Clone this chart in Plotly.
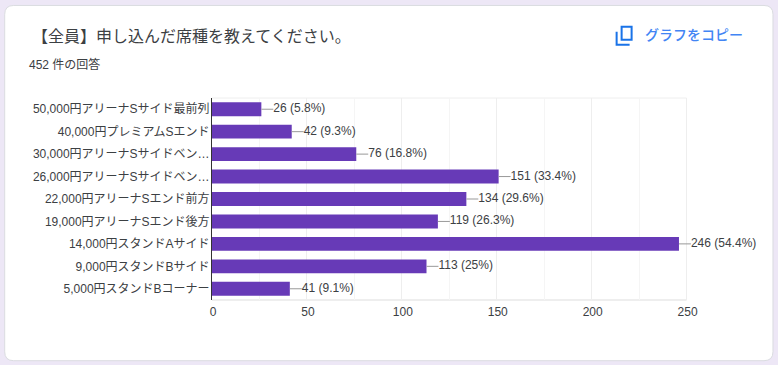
import plotly.graph_objects as go

W, H = 778, 365
X_MAX_SHOWN = 285
X_SCALE = 1.9
L, T, B = 212, 97.5, 300.5
R = L + X_MAX_SHOWN * X_SCALE

categories = ["50,000円アリーナSサイド最前列", "40,000円プレミアムSエンド", "30,000円アリーナSサイドベン…",
              "26,000円アリーナSサイドベン…", "22,000円アリーナSエンド前方", "19,000円アリーナSエンド後方",
              "14,000円スタンドAサイド", "9,000円スタンドBサイド", "5,000円スタンドBコーナー"]
values = [26, 42, 76, 151, 134, 119, 246, 113, 41]
percents = ["5.8%", "9.3%", "16.8%", "33.4%", "29.6%", "26.3%", "54.4%", "25%", "9.1%"]
x_ticks = [0, 50, 100, 150, 200, 250]
x_minor_ticks = [25, 75, 125, 175, 225]

FONT = "'Liberation Sans', 'Noto Sans CJK JP', sans-serif"
PAGE = "#ede7f6"
LEADER = 6.3


def px(x):
    return (x - L) / (R - L)


def py(y):
    return (B - y) / (B - T)


labels = [f"{v} ({p})" for v, p in zip(values, percents)]
lead_x, lead_y = [], []
for c, v in zip(categories, values):
    lead_x += [v, v + LEADER, None]
    lead_y += [c, c, None]

fig = go.Figure()
fig.add_bar(y=categories, x=values, orientation="h", marker=dict(color="#673ab7", line_width=0),
            width=0.62, showlegend=False, hoverinfo="skip")
fig.add_scatter(x=lead_x, y=lead_y, mode="lines", line=dict(color="#999999", width=1),
                showlegend=False, hoverinfo="skip")
fig.add_scatter(x=[v + LEADER for v in values], y=categories, mode="text", text=labels,
                textposition="middle right", textfont=dict(size=12, color="#3c4043", family=FONT),
                showlegend=False, hoverinfo="skip", cliponaxis=False)


def rounded(x0, y0, x1, y1, r):
    X0, X1, Y0, Y1 = px(x0), px(x1), py(y0), py(y1)
    pts = [(x0 + r, y0), (x1 - r, y0), (x1, y0 + r), (x1, y1 - r), (x1 - r, y1), (x0 + r, y1), (x0, y1 - r), (x0, y0 + r)]
    p = [(px(a), py(b)) for a, b in pts]
    return (f"M{p[0][0]},{p[0][1]} L{p[1][0]},{p[1][1]} Q{X1},{Y0} {p[2][0]},{p[2][1]} "
            f"L{p[3][0]},{p[3][1]} Q{X1},{Y1} {p[4][0]},{p[4][1]} L{p[5][0]},{p[5][1]} "
            f"Q{X0},{Y1} {p[6][0]},{p[6][1]} L{p[7][0]},{p[7][1]} Q{X0},{Y0} {p[0][0]},{p[0][1]} Z")


shapes = [
    dict(type="path", xref="paper", yref="paper", layer="below", path=rounded(4.5, 4.5, 773.5, 361.5, 9),
         fillcolor="#ffffff", line=dict(color="#dadce0", width=1)),
    dict(type="line", xref="x", yref="paper", layer="below", x0=0, x1=x_ticks[-1], y0=1, y1=1,
         line=dict(color="#eeeeee", width=1)),
    dict(type="line", xref="x", yref="paper", layer="below", x0=0, x1=x_ticks[-1], y0=0, y1=0,
         line=dict(color="#eeeeee", width=2)),
    dict(type="rect", xref="paper", yref="paper", x0=px(622), x1=px(632), y0=py(26), y1=py(39),
         fillcolor="rgba(0,0,0,0)", line=dict(color="#1a73e8", width=2)),
    dict(type="path", xref="paper", yref="paper",
         path=f"M{px(617)},{py(31)} L{px(617)},{py(44)} L{px(630)},{py(44)}",
         line=dict(color="#1a73e8", width=2)),
]


def note(x, y, text, size, color, weight="normal"):
    return dict(xref="paper", yref="paper", x=px(x), y=py(y), text=text, showarrow=False, xanchor="left",
                yanchor="middle", font=dict(size=size, color=color, family=FONT, weight=weight))


annotations = [
    note(30, 35.5, "【全員】申し込んだ席種を教えてください。", 16, "#3c4043"),
    note(26.5, 64, "452 件の回答", 12, "#3c4043"),
    note(643, 34, "グラフをコピー", 14, "#4285f4", 500),
]

fig.update_layout(
    width=W, height=H, margin=dict(l=L, r=W - R, t=T, b=H - B, autoexpand=False),
    paper_bgcolor=PAGE, plot_bgcolor="rgba(0,0,0,0)", font=dict(family=FONT, size=12, color="#3c4043"),
    bargap=0.38, shapes=shapes, annotations=annotations,
    xaxis=dict(range=[0, X_MAX_SHOWN], tickvals=x_ticks, showgrid=True, gridcolor="#eeeeee", gridwidth=1,
               minor=dict(tickvals=x_minor_ticks, showgrid=True, gridcolor="#f5f5f5", ticks=""),
               showline=False, zeroline=False, ticks="",
               tickfont=dict(size=12, color="#3c4043"), ticklabelstandoff=3, ticklabelshift=1),
    yaxis=dict(categoryorder="array", categoryarray=categories, autorange="reversed", showgrid=False,
               showline=True, linecolor="#333333", linewidth=1, zeroline=False, ticks="",
               tickfont=dict(size=12, color="#3c4043"), ticklabelstandoff=-1),
)

fig.write_html("out.html", config=dict(displayModeBar=False),
               post_script="document.body.style.margin='0';document.body.style.background='%s';" % PAGE)
